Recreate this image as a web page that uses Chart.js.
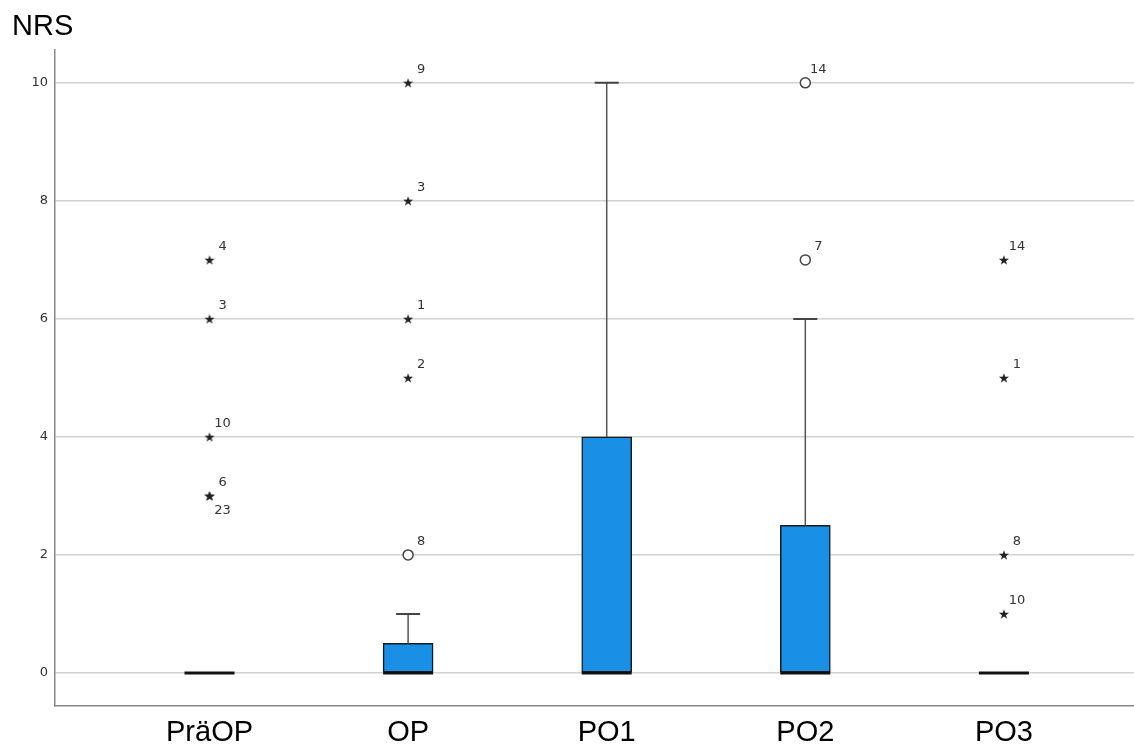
<!DOCTYPE html>
<html><head><meta charset="utf-8">
<script src="https://cdn.jsdelivr.net/npm/chart.js@4.4.1/dist/chart.umd.min.js"></script>
<style>html,body{margin:0;padding:0;background:#fff;overflow:hidden}#wrap{width:1134px;height:747px;position:relative}</style>
</head><body><div id="wrap"><canvas id="c"></canvas></div>
<script>
const categories = ['PräOP', 'OP', 'PO1', 'PO2', 'PO3'];
const q1 = [0, 0, 0, 0, 0];
const median = [0, 0, 0, 0, 0];
const q3 = [0, 0.5, 4, 2.5, 0];
const whiskerHigh = [0, 1, 10, 6, 0];
// outliers (circles): category index, value, case id
const outlierCat = [1, 3, 3];
const outlierVal = [2, 7, 10];
const outlierId = ['8', '7', '14'];
// extreme values (stars): category index, value, case id
const extremeCat = [0, 0, 0, 0, 0, 1, 1, 1, 1, 4, 4, 4, 4];
const extremeVal = [7, 6, 4, 3, 3, 10, 8, 6, 5, 7, 5, 2, 1];
const extremeId = ['4', '3', '10', '6', '23', '9', '3', '1', '2', '14', '1', '8', '10'];
const yTicks = [0, 2, 4, 6, 8, 10];
const yTitle = 'NRS';

function makeStar() {
  const c = document.createElement('canvas');
  c.width = 12; c.height = 12;
  const g = c.getContext('2d');
  g.fillStyle = '#222';
  g.beginPath();
  for (let k = 0; k < 10; k++) {
    const r = k % 2 ? 2.1 : 5.3;
    const a = -Math.PI / 2 + k * Math.PI / 5;
    g.lineTo(6 + r * Math.cos(a), 6.5 + r * Math.sin(a));
  }
  g.closePath(); g.fill();
  return c;
}
const starImg = makeStar();

const datasets = [];
// medians
datasets.push({
  type: 'scatter', data: median.map((m, i) => ({x: i, y: m})),
  pointStyle: 'line', pointRadius: 25, pointHoverRadius: 25,
  borderColor: '#111', pointBorderWidth: 3, borderWidth: 3, showLine: false
});
// circles
datasets.push({
  type: 'scatter', data: outlierCat.map((c, k) => ({x: c, y: outlierVal[k]})), ids: outlierId,
  pointStyle: 'circle', pointRadius: 5, backgroundColor: '#fff', borderColor: '#444', pointBorderWidth: 1.5, showLine: false
});
// stars
datasets.push({
  type: 'scatter', data: extremeCat.map((c, k) => ({x: c, y: extremeVal[k]})), ids: extremeId,
  pointStyle: starImg, pointRadius: 6, showLine: false
});
// whisker caps
datasets.push({
  type: 'scatter',
  data: whiskerHigh.map((w, i) => w > q3[i] ? {x: i, y: w} : null).filter(Boolean),
  pointStyle: 'line', pointRadius: 12, borderColor: '#444', pointBorderWidth: 2, borderWidth: 2, showLine: false
});
// whisker stems
whiskerHigh.forEach((w, i) => {
  if (w > q3[i]) {
    datasets.push({
      type: 'line', data: [{x: i, y: q3[i]}, {x: i, y: w}],
      borderColor: '#555', borderWidth: 1.5, pointRadius: 0, fill: false
    });
  }
});
// boxes
datasets.push({
  type: 'bar',
  data: q3.map((v, i) => v > q1[i] ? {x: i, y: [q1[i], v]} : null).filter(Boolean),
  backgroundColor: '#1a8fe6', borderColor: '#1a1a1a', borderWidth: 1.5, borderSkipped: false,
  barThickness: 50, grouped: false
});

const idLabels = {
  id: 'idLabels',
  afterDatasetsDraw(chart) {
    const ctx = chart.ctx;
    ctx.save();
    ctx.font = '13px "DejaVu Sans"';
    ctx.fillStyle = '#333';
    ctx.textAlign = 'center';
    ctx.textBaseline = 'middle';
    chart.data.datasets.forEach((ds, di) => {
      if (!ds.ids) return;
      const meta = chart.getDatasetMeta(di);
      const seen = {};
      meta.data.forEach((pt, k) => {
        const key = ds.data[k].x + '_' + ds.data[k].y;
        const below = seen[key];
        seen[key] = true;
        ctx.fillText(ds.ids[k], pt.x + 13, below ? pt.y + 15 : pt.y - 13);
      });
    });
    ctx.restore();
  }
};

new Chart(document.getElementById('c'), {
  type: 'bar',
  data: {datasets},
  plugins: [idLabels],
  options: {
    responsive: true, maintainAspectRatio: false, animation: false,
    layout: {autoPadding: false, padding: {left: 12, right: 0, top: 0, bottom: 0}},
    plugins: {
      legend: {display: false}, tooltip: {enabled: false},
      title: {display: true, text: yTitle, align: 'start', color: '#000',
        font: {family: '"Liberation Sans", Arial', size: 29, weight: 'normal'}, padding: {top: 10, bottom: 5}}
    },
    scales: {
      x: {
        type: 'linear', min: -0.778, max: 4.655, offset: false,
        afterBuildTicks: s => { s.ticks = categories.map((c, i) => ({value: i})); },
        afterFit: s => { s.height = 41; s.paddingLeft = 0; s.paddingRight = 0; },
        ticks: {callback: v => categories[v], autoSkip: false, maxRotation: 0, padding: 10, color: '#000',
          font: {family: '"Liberation Sans", Arial', size: 29}},
        grid: {display: false, drawTicks: false, offset: false},
        border: {display: true, color: '#888', width: 1.5}
      },
      y: {
        min: -0.56, max: 10.56,
        afterBuildTicks: s => { s.ticks = yTicks.map(v => ({value: v})); },
        afterFit: s => { s.width = 43; },
        ticks: {padding: 7, color: '#333', font: {family: '"DejaVu Sans"', size: 13}},
        grid: {color: '#d2d2d2', lineWidth: 1.5, drawTicks: false},
        border: {display: true, color: '#888', width: 1.5}
      }
    }
  }
});
</script></body></html>
